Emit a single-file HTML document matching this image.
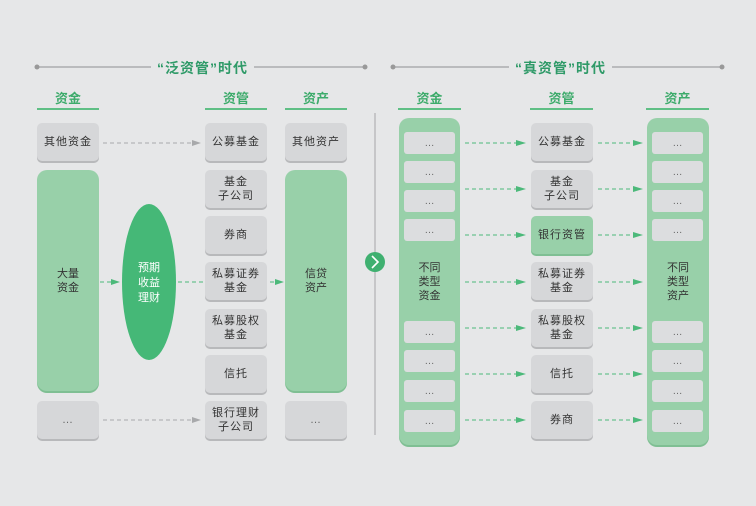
<!DOCTYPE html>
<html><head><meta charset="utf-8"><style>
*{margin:0;padding:0;box-sizing:border-box}
body{width:756px;height:506px;background:#e6e7e8;position:relative;overflow:hidden;font-family:"Liberation Sans","Noto Sans CJK SC",sans-serif}
.a{position:absolute}
.box{position:absolute;background:#d6d7d9;border-radius:5px;box-shadow:0 2px 0 #b8b9bb;display:flex;align-items:center;justify-content:center;text-align:center;font-size:11px;line-height:14px;color:#333;letter-spacing:1px}
.gbig{position:absolute;background:#98d0a9;border-radius:10px;box-shadow:0 2px 0 #7fbf93;display:flex;align-items:center;justify-content:center;text-align:center;font-size:11px;line-height:14px;color:#333}
.in{position:absolute;background:#dcdddf;border-radius:3px;display:flex;align-items:center;justify-content:center;font-size:10px;color:#666;width:51px;height:22px}
.hd{position:absolute;height:17px;text-align:center;font-size:13px;font-weight:bold;color:#3dab6b;border-bottom:2px solid #5fbf85;line-height:12px}
.tt{position:absolute;top:58px;font-size:14px;font-weight:bold;color:#2f9a68;background:#e6e7e8;padding:0 6px;letter-spacing:1px}
</style></head><body>
<svg class="a" style="left:0;top:0" width="756" height="506">
<line x1="37" y1="67" x2="365" y2="67" stroke="#a0a1a3" stroke-width="1.3"/>
<circle cx="37" cy="67" r="2.5" fill="#999"/><circle cx="365" cy="67" r="2.5" fill="#999"/>
<line x1="393" y1="67" x2="722" y2="67" stroke="#a0a1a3" stroke-width="1.3"/>
<circle cx="393" cy="67" r="2.5" fill="#999"/><circle cx="722" cy="67" r="2.5" fill="#999"/>
<line x1="375" y1="113" x2="375" y2="435" stroke="#b0b1b3" stroke-width="1.2"/>
<g stroke="#a8a9ab" stroke-dasharray="4,3" stroke-width="1">
<line x1="103" y1="143" x2="193" y2="143"/><line x1="103" y1="420" x2="193" y2="420"/></g>
<g fill="#a8a9ab"><polygon points="192,140 201,143 192,146"/><polygon points="192,417 201,420 192,423"/></g>
<g stroke="#4cb97a" stroke-dasharray="4,3" stroke-width="1">
<line x1="100" y1="282" x2="112" y2="282"/><line x1="178" y1="282" x2="203" y2="282"/><line x1="270" y1="282" x2="276" y2="282"/>
<line x1="465" y1="143" x2="517" y2="143"/><line x1="465" y1="189" x2="517" y2="189"/><line x1="465" y1="235" x2="517" y2="235"/><line x1="465" y1="282" x2="517" y2="282"/><line x1="465" y1="328" x2="517" y2="328"/><line x1="465" y1="374" x2="517" y2="374"/><line x1="465" y1="420" x2="517" y2="420"/>
<line x1="598" y1="143" x2="634" y2="143"/><line x1="598" y1="189" x2="634" y2="189"/><line x1="598" y1="235" x2="634" y2="235"/><line x1="598" y1="282" x2="634" y2="282"/><line x1="598" y1="328" x2="634" y2="328"/><line x1="598" y1="374" x2="634" y2="374"/><line x1="598" y1="420" x2="634" y2="420"/>
</g>
<g fill="#4cb97a">
<polygon points="111,279 120,282 111,285"/><polygon points="275,279 284,282 275,285"/>
<polygon points="516,140 526,143 516,146"/><polygon points="516,186 526,189 516,192"/><polygon points="516,232 526,235 516,238"/><polygon points="516,279 526,282 516,285"/><polygon points="516,325 526,328 516,331"/><polygon points="516,371 526,374 516,377"/><polygon points="516,417 526,420 516,423"/>
<polygon points="633,140 643,143 633,146"/><polygon points="633,186 643,189 633,192"/><polygon points="633,232 643,235 633,238"/><polygon points="633,279 643,282 633,285"/><polygon points="633,325 643,328 633,331"/><polygon points="633,371 643,374 633,377"/><polygon points="633,417 643,420 633,423"/>
</g>
<ellipse cx="149" cy="282" rx="27" ry="78" fill="#45b877"/>
<circle cx="375" cy="262" r="10" fill="#3fb070"/>
<polyline points="372,256 378,262 372,268" fill="none" stroke="#fff" stroke-width="1.6"/>
</svg>
<div class="tt" style="left:151px">“泛资管”时代</div>
<div class="tt" style="left:509px">“真资管”时代</div>
<div class="hd" style="left:37px;top:93px;width:62px">资金</div>
<div class="hd" style="left:205px;top:93px;width:62px">资管</div>
<div class="hd" style="left:285px;top:93px;width:62px">资产</div>
<div class="hd" style="left:398px;top:93px;width:63px">资金</div>
<div class="hd" style="left:530px;top:93px;width:63px">资管</div>
<div class="hd" style="left:646px;top:93px;width:63px">资产</div>

<div class="box" style="left:37px;top:123px;width:62px;height:38px">其他资金</div>
<div class="gbig" style="left:37px;top:170px;width:62px;height:221px">大量<br>资金</div>
<div class="box" style="left:37px;top:401px;width:62px;height:38px;color:#666">…</div>
<div class="a" style="left:122px;top:261px;width:54px;text-align:center;color:#fff;font-size:11px;line-height:15px">预期<br>收益<br>理财</div>

<div class="box" style="left:205px;top:123px;width:62px;height:38px">公募基金</div>
<div class="box" style="left:205px;top:170px;width:62px;height:38px">基金<br>子公司</div>
<div class="box" style="left:205px;top:216px;width:62px;height:38px">券商</div>
<div class="box" style="left:205px;top:262px;width:62px;height:38px">私募证券<br>基金</div>
<div class="box" style="left:205px;top:309px;width:62px;height:38px">私募股权<br>基金</div>
<div class="box" style="left:205px;top:355px;width:62px;height:38px">信托</div>
<div class="box" style="left:205px;top:401px;width:62px;height:38px">银行理财<br>子公司</div>

<div class="box" style="left:285px;top:123px;width:62px;height:38px">其他资产</div>
<div class="gbig" style="left:285px;top:170px;width:62px;height:221px">信贷<br>资产</div>
<div class="box" style="left:285px;top:401px;width:62px;height:38px;color:#666">…</div>

<div class="gbig" style="left:399px;top:118px;width:61px;height:327px">不同<br>类型<br>资金</div>
<div class="gbig" style="left:647px;top:118px;width:62px;height:327px">不同<br>类型<br>资产</div>
<div class="in" style="left:404px;top:132px">…</div><div class="in" style="left:404px;top:161px">…</div><div class="in" style="left:404px;top:190px">…</div><div class="in" style="left:404px;top:219px">…</div>
<div class="in" style="left:404px;top:321px">…</div><div class="in" style="left:404px;top:350px">…</div><div class="in" style="left:404px;top:380px">…</div><div class="in" style="left:404px;top:410px">…</div>
<div class="in" style="left:652px;top:132px">…</div><div class="in" style="left:652px;top:161px">…</div><div class="in" style="left:652px;top:190px">…</div><div class="in" style="left:652px;top:219px">…</div>
<div class="in" style="left:652px;top:321px">…</div><div class="in" style="left:652px;top:350px">…</div><div class="in" style="left:652px;top:380px">…</div><div class="in" style="left:652px;top:410px">…</div>

<div class="box" style="left:531px;top:123px;width:62px;height:38px">公募基金</div>
<div class="box" style="left:531px;top:170px;width:62px;height:38px">基金<br>子公司</div>
<div class="box" style="left:531px;top:216px;width:62px;height:38px;background:#98d0a9;box-shadow:0 2px 0 #7fbf93">银行资管</div>
<div class="box" style="left:531px;top:262px;width:62px;height:38px">私募证券<br>基金</div>
<div class="box" style="left:531px;top:309px;width:62px;height:38px">私募股权<br>基金</div>
<div class="box" style="left:531px;top:355px;width:62px;height:38px">信托</div>
<div class="box" style="left:531px;top:401px;width:62px;height:38px">券商</div>
</body></html>
